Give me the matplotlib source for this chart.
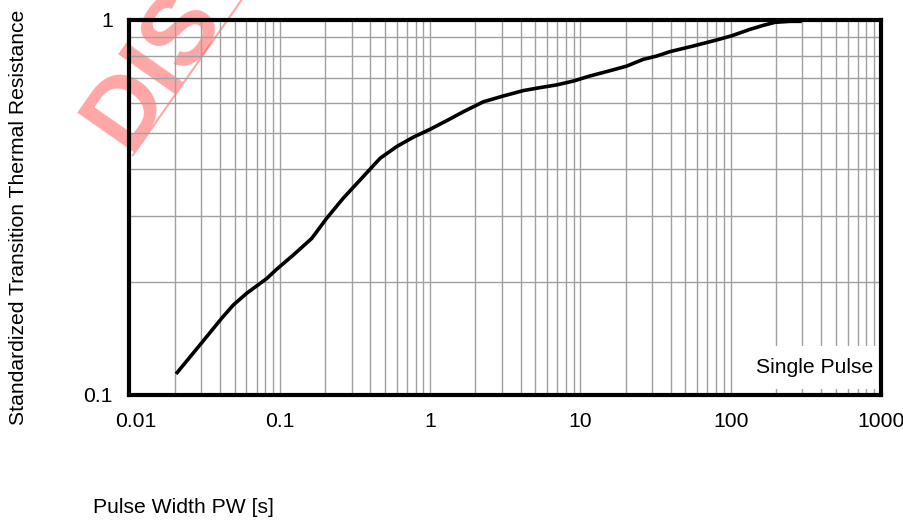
import numpy as np
import matplotlib
matplotlib.use("Agg")
import matplotlib.pyplot as plt
import matplotlib.ticker as mticker
import matplotlib.transforms as mtrans
from matplotlib.lines import Line2D

plt.rcParams['font.family'] = ['Liberation Sans', 'DejaVu Sans']

# curve (pulse width in s, standardized resistance)
pulse_width = [0.0204, 0.0294, 0.0411, 0.0491, 0.0602, 0.0818, 0.0953, 0.123,
               0.163, 0.205, 0.264, 0.342, 0.465, 0.600, 0.773, 0.998, 1.29,
               1.66, 2.26, 3.07, 4.17, 5.38, 6.95, 8.97, 11.6, 15.7, 20.3,
               26.2, 32.2, 39.5, 56.4, 80.7, 101.6, 134, 165, 197, 248, 297]
resistance = [0.1136, 0.1357, 0.160, 0.1735, 0.1864, 0.204, 0.216, 0.2358,
              0.261, 0.2954, 0.334, 0.3737, 0.427, 0.459, 0.486, 0.510, 0.538,
              0.568, 0.604, 0.626, 0.647, 0.659, 0.670, 0.686, 0.708, 0.731,
              0.752, 0.784, 0.800, 0.822, 0.851, 0.883, 0.906, 0.942, 0.966,
              0.984, 0.990, 0.990]

x_ticks = [0.01, 0.1, 1, 10, 100, 1000]
x_labels = ['0.01', '0.1', '1', '10', '100', '1000']
y_ticks = [0.1, 1]
y_labels = ['0.1', '1']

FS = 15.2
W, H = 904, 521
fig = plt.figure(figsize=(W / 100, H / 100), dpi=100)
ax = fig.add_axes([129.5 / W, 1 - 394.7 / H, (881 - 129.5) / W, (394.7 - 19.7) / H])
ax.patch.set_alpha(0)

ax.plot(pulse_width, resistance, color='black', lw=2.6, zorder=2,
        solid_capstyle='butt', solid_joinstyle='round')

ax.set_xscale('log')
ax.set_yscale('log')
ax.set_xlim(0.01, 1000)
ax.set_ylim(0.1, 1)
ax.set_xticks(x_ticks)
ax.set_xticklabels(x_labels)
ax.set_yticks(y_ticks)
ax.set_yticklabels(y_labels)
ax.xaxis.set_minor_locator(mticker.LogLocator(base=10, subs=np.arange(2, 10)))
ax.yaxis.set_minor_locator(mticker.LogLocator(base=10, subs=np.arange(2, 10)))
ax.xaxis.set_minor_formatter(mticker.NullFormatter())
ax.yaxis.set_minor_formatter(mticker.NullFormatter())
ax.tick_params(which='both', length=0, labelsize=FS)
ax.tick_params(axis='x', pad=12.5)
ax.tick_params(axis='y', pad=12)
ax.grid(which='both', color='#a0a0a0', lw=1.0)

# first x label sits a little right of its gridline in the reference
lab0 = ax.get_xticklabels()[0]
lab0.set_transform(lab0.get_transform() +
                   mtrans.ScaledTranslation(6 / 100, 0, fig.dpi_scale_trans))

for s in ax.spines.values():
    s.set_linewidth(3)
    s.set_color('black')

sp = ax.text(873, H - 373, 'Single Pulse', transform=mtrans.IdentityTransform(),
             ha='right', va='baseline', fontsize=FS, zorder=2,
             bbox=dict(facecolor='white', edgecolor='none', pad=8.6))
sp.set_clip_on(True)

fig.text(18.5 / W, 1 - 217 / H, 'Standardized Transition Thermal Resistance',
         rotation=90, ha='center', va='center', fontsize=FS)
fig.text(93 / W, 1 - 513 / H, 'Pulse Width PW [s]', ha='left', va='baseline',
         fontsize=FS)

# watermark, only the visible part of it
fig.text(127.7 / W, 1 - 152.4 / H, 'DIS', rotation=55,
         rotation_mode='anchor', ha='left', va='baseline', fontsize=72,
         fontweight='bold', color='red', alpha=0.35, zorder=-1)
ang = np.deg2rad(55)
x0, y0 = 133, H - 155
x1, y1 = x0 + 400 * np.cos(ang), y0 + 400 * np.sin(ang)
fig.add_artist(Line2D([x0 / W, x1 / W], [y0 / H, y1 / H], color='red',
                      alpha=0.35, lw=1.5, zorder=-1))

fig.savefig('out.png', dpi=100)
